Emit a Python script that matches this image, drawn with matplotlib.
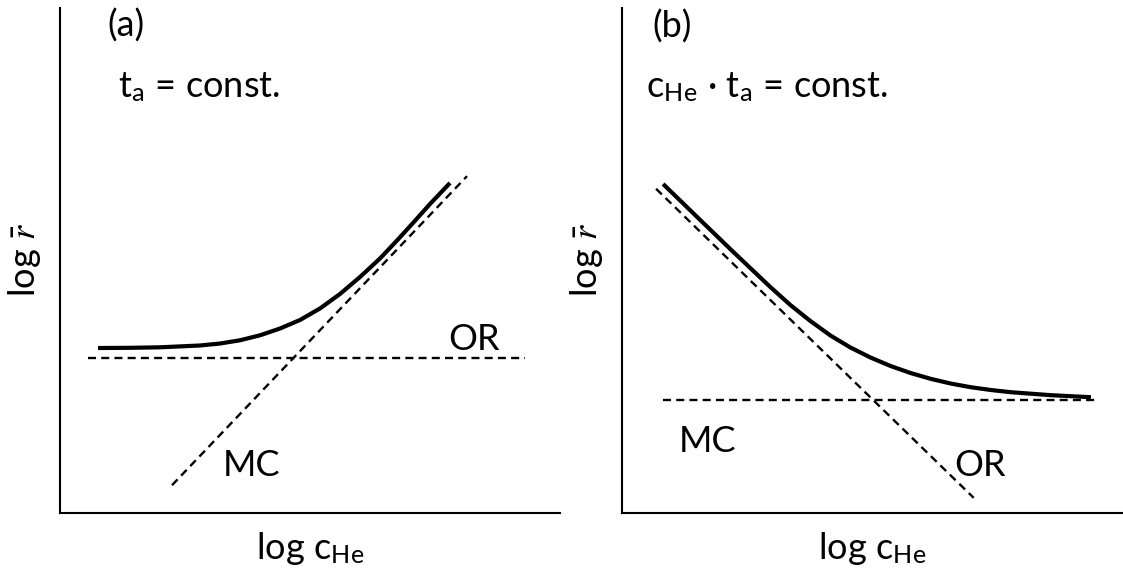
import matplotlib
matplotlib.use("Agg")
import matplotlib.pyplot as plt

plt.rcParams['font.family'] = ['Lato', 'DejaVu Sans']
plt.rcParams['mathtext.fontset'] = 'custom'
plt.rcParams['mathtext.rm'] = 'Lato'
plt.rcParams['mathtext.it'] = 'STIXGeneral:italic'

# (a) t_a = const. : mean radius vs He concentration
a_curve_x = [0.76, 1.40, 2.00, 2.80, 3.20, 3.60, 4.00, 4.40, 4.80, 5.20, 5.60, 6.00,
             6.40, 6.74, 7.06, 7.40, 7.80]
a_curve_y = [3.267, 3.271, 3.281, 3.317, 3.356, 3.420, 3.519, 3.653, 3.822, 4.050, 4.337,
             4.673, 5.040, 5.396, 5.743, 6.119, 6.535]
a_mc_x = [2.24, 8.14]
a_mc_y = [0.55, 6.67]
a_or_x = [0.56, 9.3]
a_or_y = [3.07, 3.07]

# (b) c_He * t_a = const.
b_curve_x = [0.82, 1.50, 2.16, 2.56, 2.96, 3.36, 3.76, 4.16, 4.56, 4.96, 5.36, 5.76,
             6.16, 6.56, 6.96, 7.36, 7.76, 8.56, 9.36]
b_curve_y = [6.515, 5.861, 5.228, 4.851, 4.475, 4.119, 3.802, 3.515, 3.277, 3.079, 2.911,
             2.772, 2.657, 2.564, 2.491, 2.436, 2.392, 2.333, 2.293]
b_or_x = [0.68, 7.02]
b_or_y = [6.42, 0.30]
b_mc_x = [0.82, 9.52]
b_mc_y = [2.24, 2.24]

W, H = 1123, 575
fig = plt.figure(figsize=(W / 100, H / 100), dpi=100)
ax_a = fig.add_axes([60 / W, 62 / H, 500 / W, 505 / H])
ax_b = fig.add_axes([622 / W, 62 / H, 501 / W, 505 / H])

fs = 26
dash = dict(color='black', lw=1.7, linestyle=(0, (3.4, 2.2)))
solid = dict(color='black', lw=3, solid_capstyle='butt', solid_joinstyle='round')

for ax in (ax_a, ax_b):
    ax.set_xlim(0, 10)
    ax.set_ylim(0, 10)
    for s in ('top', 'right'):
        ax.spines[s].set_visible(False)
    for s in ('left', 'bottom'):
        ax.spines[s].set_linewidth(1.5)
        ax.spines[s].set_color('black')
    ax.set_xticks([])
    ax.set_yticks([])
    ax.set_xlabel(r'log c$_{\mathrm{He}}$', fontsize=fs, labelpad=12)
    ax.set_ylabel(r'log $\bar{r}$', fontsize=fs, labelpad=12)

# panel (a)
ax_a.plot(a_or_x, a_or_y, **dash)
ax_a.plot(a_mc_x, a_mc_y, **dash)
ax_a.plot(a_curve_x, a_curve_y, **solid)
ax_a.text(1.32, 9.66, '(a)', fontsize=fs, ha='center', va='center')
ax_a.text(1.16, 8.24, r't$_{\mathrm{a}}$ = const.', fontsize=fs, ha='left', va='baseline')
ax_a.text(8.28, 3.43, 'OR', fontsize=fs, ha='center', va='center')
ax_a.text(3.84, 0.95, 'MC', fontsize=fs, ha='center', va='center')

# panel (b)
ax_b.plot(b_mc_x, b_mc_y, **dash)
ax_b.plot(b_or_x, b_or_y, **dash)
ax_b.plot(b_curve_x, b_curve_y, **solid)
ax_b.text(1.0, 9.64, '(b)', fontsize=fs, ha='center', va='center')
ax_b.text(0.48, 8.24, r'c$_{\mathrm{He}}$ · t$_{\mathrm{a}}$ = const.', fontsize=fs, ha='left', va='baseline')
ax_b.text(1.70, 1.41, 'MC', fontsize=fs, ha='center', va='center')
ax_b.text(7.14, 0.95, 'OR', fontsize=fs, ha='center', va='center')

fig.savefig('out.png', dpi=100)
